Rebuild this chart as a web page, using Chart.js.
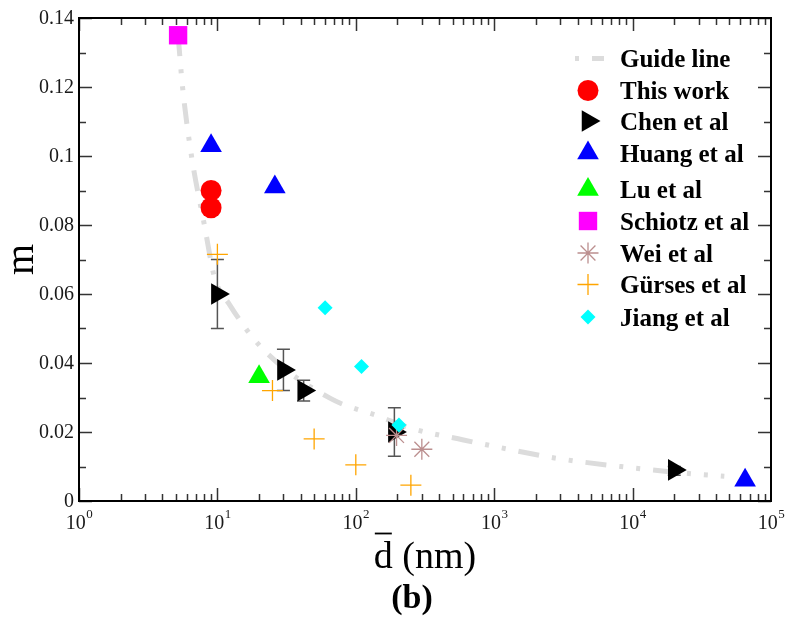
<!DOCTYPE html>
<html><head><meta charset="utf-8">
<script src="https://cdn.jsdelivr.net/npm/chart.js@4/dist/chart.umd.min.js"></script>
<style>html,body{margin:0;padding:0;background:#fff;}canvas{display:block;}</style>
</head><body>
<canvas id="c" width="786" height="624"></canvas>
<script>
// ---- data ----
const seriesNames = ['Guide line','This work','Chen et al','Huang et al','Lu et al','Schiotz et al','Wei et al','Gürses et al','Jiang et al'];

const guideX = [5.2, 5.6, 6.5, 8.1, 9.5, 12.3, 21, 65, 150, 250, 600, 1100, 2800, 10000, 30500, 46000];
const guideY = [0.135, 0.12, 0.100, 0.0795, 0.065, 0.0568, 0.0443, 0.0298, 0.0244, 0.0211, 0.0177, 0.0155, 0.0124, 0.0096, 0.0077, 0.0072];

const thisWorkX = [9, 9];
const thisWorkY = [0.090, 0.085];

const chenX = [10, 30, 42, 190, 20000];
const chenY = [0.060, 0.038, 0.032, 0.020, 0.009];
const chenErrLow  = [0.050, 0.032, 0.029, 0.013, 0.0075];
const chenErrHigh = [0.070, 0.044, 0.035, 0.027, 0.0100];

const huangX = [9, 26, 65000];
const huangY = [0.103, 0.091, 0.006];

const luX = [20];
const luY = [0.036];

const schiotzX = [5.2];
const schiotzY = [0.135];

const weiX = [197, 300];
const weiY = [0.019, 0.015];

const gursesX = [10, 25, 50, 100, 250];
const gursesY = [0.0715, 0.032, 0.018, 0.0105, 0.0046];

const jiangX = [60, 110, 205];
const jiangY = [0.056, 0.039, 0.022];

const xTickValues = [1, 10, 100, 1000, 10000, 100000];
const xTickExponents = ['0', '1', '2', '3', '4', '5'];
const yTickValues = [0, 0.02, 0.04, 0.06, 0.08, 0.10, 0.12, 0.14];
const yTickLabels = ['0', '0.02', '0.04', '0.06', '0.08', '0.1', '0.12', '0.14'];
const xTitleMain = 'd';
const xTitleRest = ' (nm)';
const yTitle = 'm';
const panelLabel = '(b)';

// ---- build ----
function pts(xs, ys) { return xs.map((x, i) => ({ x: x, y: ys[i] })); }

const SERIF = '"Liberation Serif", "Times New Roman", serif';

const styles = [
  { type: 'line', data: pts(guideX, guideY), showLine: true, borderColor: '#dcdcdc', borderWidth: 5,
    borderDash: [21, 13, 4, 13, 4, 13], pointRadius: 0, cubicInterpolationMode: 'monotone', fill: false },
  { data: pts(thisWorkX, thisWorkY), pointStyle: 'circle', pointRadius: 10.5, backgroundColor: '#ff0000', borderColor: '#ff0000', borderWidth: 0 },
  { data: pts(chenX, chenY), pointStyle: 'triangle', pointRotation: 90, pointRadius: 12.5, backgroundColor: '#000000', borderColor: '#000000', borderWidth: 0 },
  { data: pts(huangX, huangY), pointStyle: 'triangle', pointRadius: 12.5, backgroundColor: '#0000ff', borderColor: '#0000ff', borderWidth: 0 },
  { data: pts(luX, luY), pointStyle: 'triangle', pointRadius: 12.5, backgroundColor: '#00ff00', borderColor: '#00ff00', borderWidth: 0 },
  { data: pts(schiotzX, schiotzY), pointStyle: 'rect', pointRadius: 13, backgroundColor: '#ff00ff', borderColor: '#ff00ff', borderWidth: 0 },
  { data: pts(weiX, weiY), pointStyle: 'star', pointRadius: 10.5, backgroundColor: 'rgba(0,0,0,0)', borderColor: '#bc8f8f', borderWidth: 1.3 },
  { data: pts(gursesX, gursesY), pointStyle: 'cross', pointRadius: 10.5, backgroundColor: 'rgba(0,0,0,0)', borderColor: '#ffa500', borderWidth: 1.3 },
  { data: pts(jiangX, jiangY), pointStyle: 'rectRot', pointRadius: 7.5, backgroundColor: '#00ffff', borderColor: '#00ffff', borderWidth: 0 }
];

const datasets = styles.map((s, i) => Object.assign({
  label: seriesNames[i],
  showLine: false,
  order: styles.length - 1 - i,
  pointHoverRadius: s.pointRadius
}, s));

const legendRowY = [58.5, 90.5, 121, 153, 189.5, 221, 253, 284.5, 317];

const decor = {
  id: 'decor',
  beforeDatasetDraw(chart, args) {
    if (args.index !== 2) return;
    const ctx = chart.ctx, xs = chart.scales.x, ys = chart.scales.y;
    ctx.save();
    ctx.strokeStyle = '#555555';
    ctx.lineWidth = 1.5;
    chenX.forEach((x, i) => {
      const px = xs.getPixelForValue(x);
      const y1 = ys.getPixelForValue(chenErrLow[i]);
      const y2 = ys.getPixelForValue(chenErrHigh[i]);
      ctx.beginPath();
      ctx.moveTo(px, y1); ctx.lineTo(px, y2);
      ctx.moveTo(px - 6.5, y1); ctx.lineTo(px + 6.5, y1);
      ctx.moveTo(px - 6.5, y2); ctx.lineTo(px + 6.5, y2);
      ctx.stroke();
    });
    ctx.restore();
  },
  afterDraw(chart) {
    const ctx = chart.ctx, xs = chart.scales.x, ys = chart.scales.y, ca = chart.chartArea;
    ctx.save();
    // ticks
    ctx.strokeStyle = '#333333';
    ctx.lineWidth = 1.5;
    ctx.beginPath();
    for (let d = 0; d < 5; d++) {
      for (let k = 1; k <= 9; k++) {
        const v = k * Math.pow(10, d);
        const px = Math.round(xs.getPixelForValue(v)) + 0.5;
        const len = k === 1 ? 13 : 7;
        ctx.moveTo(px, ca.bottom); ctx.lineTo(px, ca.bottom - len);
        ctx.moveTo(px, ca.top); ctx.lineTo(px, ca.top + len);
      }
    }
    for (let i = 0; i <= 14; i++) {
      const py = Math.round(ys.getPixelForValue(i * 0.01)) + 0.5;
      const len = i % 2 === 0 ? 13 : 7;
      ctx.moveTo(ca.left, py); ctx.lineTo(ca.left + len, py);
      ctx.moveTo(ca.right, py); ctx.lineTo(ca.right - len, py);
    }
    ctx.stroke();
    // frame
    ctx.strokeStyle = '#000000';
    ctx.lineWidth = 2;
    ctx.strokeRect(ca.left, ca.top, ca.right - ca.left, ca.bottom - ca.top);

    // y tick labels
    ctx.fillStyle = '#1a1a1a';
    ctx.font = '20px ' + SERIF;
    ctx.textAlign = 'right';
    ctx.textBaseline = 'middle';
    yTickValues.forEach((v, i) => {
      ctx.fillText(yTickLabels[i], ca.left - 5, ys.getPixelForValue(v) + 1);
    });
    // x tick labels with superscripts
    ctx.textAlign = 'left';
    ctx.textBaseline = 'alphabetic';
    xTickValues.forEach((v, i) => {
      const px = xs.getPixelForValue(v);
      ctx.font = '20px ' + SERIF;
      const w1 = ctx.measureText('10').width;
      ctx.font = '13px ' + SERIF;
      const w2 = ctx.measureText(xTickExponents[i]).width;
      const x0 = px - (w1 + w2) / 2;
      ctx.font = '20px ' + SERIF;
      ctx.fillText('10', x0, ca.bottom + 28);
      ctx.font = '13px ' + SERIF;
      ctx.fillText(xTickExponents[i], x0 + w1 + 0.5, ca.bottom + 17);
    });

    // x title with overline on d
    ctx.fillStyle = '#000000';
    ctx.font = '38px ' + SERIF;
    const wd = ctx.measureText(xTitleMain).width;
    const wr = ctx.measureText(xTitleRest).width;
    const cx = (ca.left + ca.right) / 2;
    const tx = cx - (wd + wr) / 2;
    const tb = ca.bottom + 67;
    ctx.fillText(xTitleMain, tx, tb);
    ctx.fillText(xTitleRest, tx + wd, tb);
    ctx.lineWidth = 1.8;
    ctx.beginPath();
    ctx.moveTo(tx + 1, tb - 34.5);
    ctx.lineTo(tx + wd - 1, tb - 34.5);
    ctx.stroke();

    // panel label
    ctx.font = 'bold 34px ' + SERIF;
    ctx.textAlign = 'center';
    ctx.fillText(panelLabel, 412, ca.bottom + 107);

    // y title
    ctx.save();
    ctx.translate(33, (ca.top + ca.bottom) / 2);
    ctx.rotate(-Math.PI / 2);
    ctx.font = '40px ' + SERIF;
    ctx.textAlign = 'center';
    ctx.textBaseline = 'alphabetic';
    ctx.fillText(yTitle, 0, 0);
    ctx.restore();

    // legend
    const mx = 588, tx0 = 620;
    chart.data.datasets.forEach((ds, i) => {
      const y = legendRowY[i];
      if (i === 0) {
        ctx.save();
        ctx.strokeStyle = ds.borderColor;
        ctx.lineWidth = ds.borderWidth;
        ctx.setLineDash([4, 13, 21, 13]);
        ctx.beginPath();
        ctx.moveTo(575, y); ctx.lineTo(604, y);
        ctx.stroke();
        ctx.restore();
      } else {
        ctx.save();
        ctx.fillStyle = ds.backgroundColor;
        ctx.strokeStyle = ds.borderColor;
        ctx.lineWidth = ds.borderWidth;
        Chart.helpers.drawPoint(ctx, {
          pointStyle: ds.pointStyle, radius: ds.pointRadius,
          rotation: ds.pointRotation || 0, borderWidth: ds.borderWidth
        }, mx, y);
        ctx.restore();
      }
      ctx.fillStyle = '#000000';
      ctx.font = 'bold 25px ' + SERIF;
      ctx.textAlign = 'left';
      ctx.textBaseline = 'alphabetic';
      ctx.fillText(ds.label, tx0, y + 8.5);
    });
    ctx.restore();
  }
};

new Chart(document.getElementById('c'), {
  type: 'scatter',
  data: { datasets: datasets },
  options: {
    responsive: false,
    animation: false,
    devicePixelRatio: 1,
    layout: { padding: { left: 79, top: 18, right: 15, bottom: 123 } },
    plugins: { legend: { display: false }, tooltip: { enabled: false } },
    scales: {
      x: { type: 'logarithmic', min: 1, max: 100000, display: false },
      y: { type: 'linear', min: 0, max: 0.14, display: false }
    }
  },
  plugins: [decor]
});
</script>
</body></html>
